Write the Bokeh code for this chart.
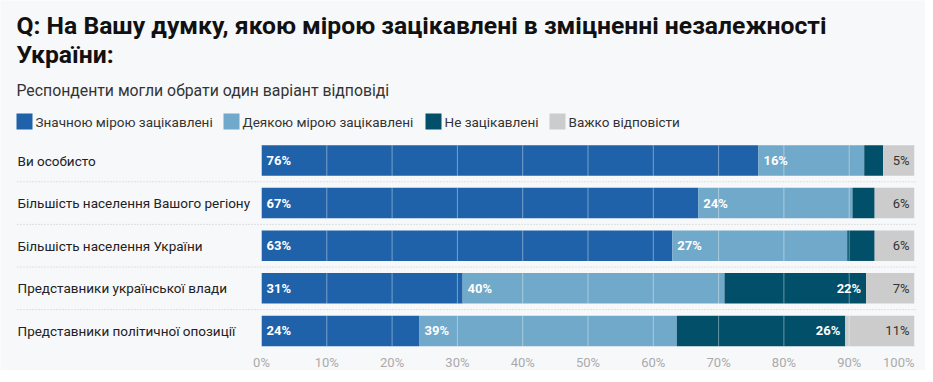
from bokeh.plotting import figure
from bokeh.models import Range1d, ColumnDataSource
from bokeh.core.properties import value
from bokeh.embed import file_html
from bokeh.resources import INLINE

# ---------------- data ----------------
categories = [
    "Ви особисто",
    "Більшість населення Вашого регіону",
    "Більшість населення України",
    "Представники української влади",
    "Представники політичної опозиції",
]
series_names = ["Значною мірою зацікавлені", "Деякою мірою зацікавлені",
                "Не зацікавлені", "Важко відповісти"]
strongly = [76.1, 66.9, 62.9, 30.8, 24.2]
somewhat = [16.2, 23.6, 26.8, 40.1, 39.4]
not_int = [2.9, 3.4, 4.2, 21.7, 25.8]
hard = [4.8, 6.1, 6.1, 7.4, 10.6]
tick_values = [0, 10, 20, 30, 40, 50, 60, 70, 80, 90, 100]
tick_labels = ["0%", "10%", "20%", "30%", "40%", "50%", "60%", "70%", "80%", "90%", "100%"]

title_lines = ["Q: На Вашу думку, якою мірою зацікавлені в зміцненні незалежності",
               "України:"]
subtitle = "Респонденти могли обрати один варіант відповіді"

colors = ["#1f62aa", "#70a9c9", "#024f6a", "#cccccc"]
label_colors = ["white", "white", "white", "#333333"]
FONT = "Roboto"

# ---------------- layout ----------------
W, H = 925, 370
X0_PX, X100_PX = 261, 914
scale = (X100_PX - X0_PX) / 100.0


def px(x):
    return (x - X0_PX) / scale


p = figure(width=W, height=H, output_backend="svg", toolbar_location=None,
           x_range=Range1d(-X0_PX / scale, (W - X0_PX) / scale),
           y_range=Range1d(H, 0), min_border=0)
p.axis.visible = False
p.grid.visible = False
p.outline_line_color = None
p.background_fill_color = "#f7f8fa"
p.border_fill_color = "#f7f8fa"

ROW0, ROW_STEP, BAR_H = 160.0, 42.6, 30.5
rows_y = [ROW0 + i * ROW_STEP for i in range(len(categories))]

series = [strongly, somewhat, not_int, hard]
lefts = [0.0] * len(categories)
for k, vals in enumerate(series):
    rights = [l + v for l, v in zip(lefts, vals)]
    src = ColumnDataSource(dict(y=rows_y, left=lefts, right=rights, v=vals))
    p.hbar(y="y", left="left", right="right", height=BAR_H, source=src,
           fill_color=colors[k], line_color=None)
    show = [i for i, v in enumerate(vals) if round(v) >= 5]
    lsrc = ColumnDataSource(dict(
        y=[rows_y[i] for i in show],
        x=[(lefts[i] if k < 2 else rights[i]) for i in show],
        t=[f"{round(vals[i])}%" for i in show]))
    p.text(x="x", y="y", text="t", source=lsrc,
           x_offset=5 if k < 2 else -5,
           text_align="left" if k < 2 else "right", text_baseline="middle",
           text_color=label_colors[k], text_font=value(FONT),
           text_font_size="13px",
           text_font_style="bold" if k < 3 else "normal")
    lefts = rights

# gridlines over bars
gx0, gy0, gx1, gy1 = [], [], [], []
for y in rows_y:
    for t in tick_values:
        gx0.append(t); gx1.append(t)
        gy0.append(y - BAR_H / 2); gy1.append(y + BAR_H / 2)
p.segment(x0=gx0, y0=gy0, x1=gx1, y1=gy1, line_color="white", line_alpha=0.4,
          line_width=1)

# dotted separators
seps = [(rows_y[i] + rows_y[i + 1]) / 2 for i in range(len(rows_y) - 1)]
p.segment(x0=[px(17)] * len(seps), x1=[px(915)] * len(seps), y0=seps, y1=seps,
          line_color="#c8c8c8", line_dash="1 2", line_width=1)

# category labels
p.text(x=[px(17)] * len(categories), y=rows_y, text=categories,
       text_align="left", text_baseline="middle", text_color="#222222",
       text_font=value(FONT), text_font_size="13.5px")

# tick labels
tx = list(tick_values)
p.text(x=tx[:-1], y=[361.5] * (len(tx) - 1), text=tick_labels[:-1],
       text_align="center", text_baseline="middle", text_color="#aaaaaa",
       text_font=value(FONT), text_font_size="13px")
p.text(x=[tx[-1]], y=[361.5], text=[tick_labels[-1]],
       text_align="right", text_baseline="middle", text_color="#aaaaaa",
       text_font=value(FONT), text_font_size="13px")

# title & subtitle
p.text(x=[px(16)] * 2, y=[24.5, 54], text=title_lines, text_align="left",
       text_baseline="middle", text_color="#111111", text_font=value(FONT),
       text_font_size="24.7px", text_font_style="bold")
p.text(x=[px(16)], y=[89.5], text=[subtitle], text_align="left",
       text_baseline="middle", text_color="#333333", text_font=value(FONT),
       text_font_size="15.8px")

# legend
leg_sq_px = [16, 223, 425, 549]
leg_y = 121
for k, name in enumerate(series_names):
    x_l = leg_sq_px[k]
    p.rect(x=[px(x_l + 8)], y=[leg_y], width=16 / scale, height=16,
           fill_color=colors[k], line_color=None)
    p.text(x=[px(x_l + 19)], y=[leg_y], text=[name], text_align="left",
           text_baseline="middle", text_color="#333333", text_font=value(FONT),
           text_font_size="13.5px")

open("out.html", "w").write(file_html(p, INLINE))
